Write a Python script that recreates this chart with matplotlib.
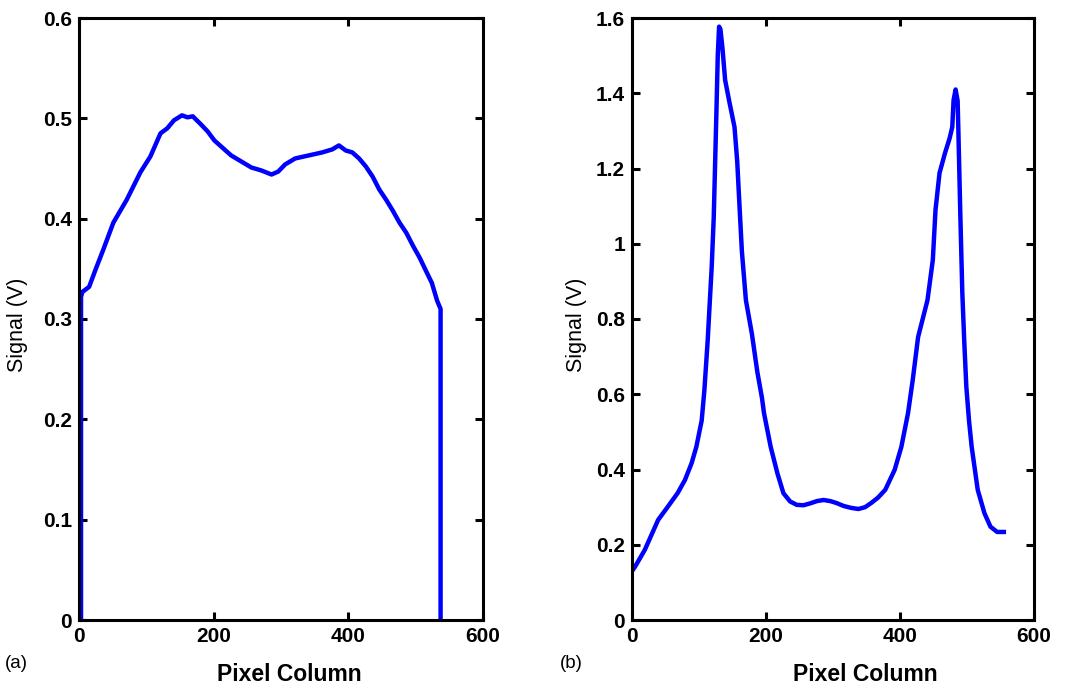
import matplotlib
matplotlib.use("Agg")
import matplotlib.pyplot as plt
from matplotlib.ticker import FuncFormatter

# panel (a): signal across the pixel columns
col_a = [3, 3, 5, 15, 25, 36, 51, 71, 91, 106, 121, 131, 141, 153, 161, 169,
         181, 191, 201, 211, 226, 241, 256, 271, 286, 296, 306, 321, 341, 361,
         376, 386, 396, 406, 416, 426, 436, 446, 456, 466, 476, 486, 496, 506,
         516, 524, 532, 537, 537]
sig_a = [0, 0.322, 0.327, 0.332, 0.350, 0.369, 0.396, 0.419, 0.446, 0.462,
         0.485, 0.490, 0.498, 0.503, 0.501, 0.502, 0.494, 0.487, 0.478, 0.472,
         0.463, 0.457, 0.451, 0.448, 0.444, 0.447, 0.454, 0.460, 0.463, 0.466,
         0.469, 0.473, 0.468, 0.466, 0.460, 0.452, 0.442, 0.429, 0.419, 0.408,
         0.396, 0.386, 0.373, 0.361, 0.347, 0.336, 0.318, 0.310, 0]

# panel (b)
col_b = [0, 4, 19, 39, 53, 68, 79, 89, 96, 104, 108, 113, 119, 122, 126, 128,
         130, 132, 135, 139, 145, 153, 157, 160, 164, 170, 179, 187, 194, 197,
         207, 217, 226, 236, 246, 256, 266, 276, 286, 296, 305, 316, 327, 338,
         348, 357, 367, 378, 392, 402, 412, 419, 427, 441, 449, 453, 459, 467,
         474, 478, 480, 483, 486, 487, 490, 493, 496, 499, 503, 507, 516, 526,
         535, 545, 555]
sig_b = [0.13, 0.14, 0.186, 0.266, 0.30, 0.337, 0.372, 0.417, 0.46, 0.53,
         0.61, 0.744, 0.94, 1.07, 1.35, 1.50, 1.577, 1.57, 1.52, 1.435, 1.38,
         1.31, 1.22, 1.116, 0.98, 0.85, 0.76, 0.66, 0.59, 0.55, 0.46, 0.39,
         0.337, 0.315, 0.306, 0.305, 0.31, 0.316, 0.319, 0.316, 0.311, 0.303,
         0.298, 0.295, 0.300, 0.311, 0.325, 0.346, 0.399, 0.46, 0.55, 0.638,
         0.752, 0.85, 0.957, 1.09, 1.188, 1.24, 1.28, 1.31, 1.382, 1.41, 1.38,
         1.31, 1.08, 0.87, 0.736, 0.62, 0.53, 0.46, 0.346, 0.284, 0.248, 0.234,
         0.234]

xticks = [0, 200, 400, 600]
yticks_a = [0, 0.1, 0.2, 0.3, 0.4, 0.5, 0.6]
yticks_b = [0, 0.2, 0.4, 0.6, 0.8, 1.0, 1.2, 1.4, 1.6]

plt.rcParams['font.family'] = ['Liberation Sans', 'DejaVu Sans']

fig = plt.figure(figsize=(10.74, 6.85), dpi=100)
W, H = 1074, 685
ax_a = fig.add_axes([79 / W, 65 / H, 404 / W, 602 / H])
ax_b = fig.add_axes([632 / W, 65 / H, 402 / W, 602 / H])


def style(ax, yticks, ymax, xlab_x, ylab_x):
    ax.set_xlim(0, 600)
    ax.set_ylim(0, ymax)
    ax.set_xticks(xticks)
    ax.set_yticks(yticks)
    ax.yaxis.set_major_formatter(FuncFormatter(lambda v, p: '%g' % round(v, 2)))
    ax.tick_params(direction='in', top=True, right=True, length=6, width=2.2,
                   labelsize=15, pad=5)
    for lab in ax.get_xticklabels() + ax.get_yticklabels():
        lab.set_fontweight('bold')
    for s in ax.spines.values():
        s.set_linewidth(2.2)
    ax.set_xlabel('Pixel Column', fontsize=16.5, fontweight='bold')
    ax.xaxis.set_label_coords(xlab_x, -0.072)
    ax.set_ylabel('Signal (V)', fontsize=15.5)
    ax.yaxis.set_label_coords(ylab_x, 0.49)


ax_a.plot(col_a, sig_a, color='#0000ff', lw=3.2)
style(ax_a, yticks_a, 0.6, 0.52, -0.126)

ax_b.plot(col_b, sig_b, color='#0000ff', lw=3.2)
style(ax_b, yticks_b, 1.6, 0.58, -0.112)

fig.text(5 / W, 1 - 664 / H, '(a)', fontsize=13.5, va='center')
fig.text(560 / W, 1 - 664 / H, '(b)', fontsize=13.5, va='center')

fig.savefig('out.png', dpi=100)
